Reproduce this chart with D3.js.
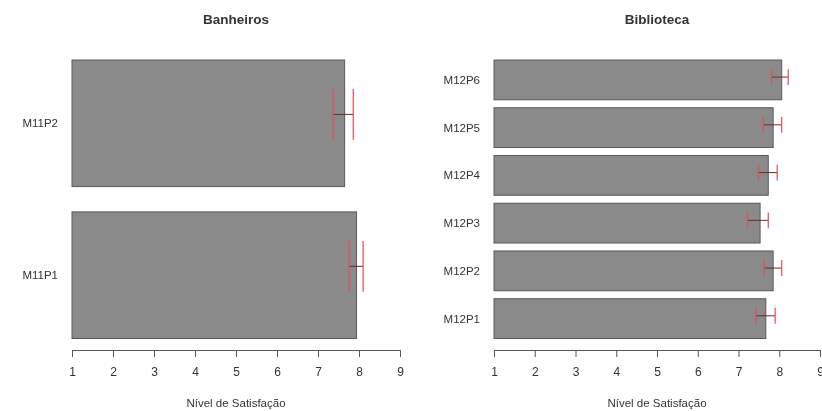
<!DOCTYPE html>
<html>
<head>
<meta charset="utf-8">
<script src="https://cdn.jsdelivr.net/npm/d3@7"></script>
<style>
  html, body { margin: 0; padding: 0; background: #fff; }
  svg { display: block; filter: blur(0.45px); }
  text { font-family: "Liberation Sans", Arial, sans-serif; fill: #333; }
</style>
</head>
<body>
<svg id="chart" width="822" height="411"></svg>
<script>
// ---- data ----
const banheirosCategories = ["M11P1", "M11P2"];
const banheirosMeans = [7.94, 7.65];
const banheirosLower = [7.76, 7.37];
const banheirosUpper = [8.10, 7.86];

const bibliotecaCategories = ["M12P1", "M12P2", "M12P3", "M12P4", "M12P5", "M12P6"];
const bibliotecaMeans = [7.67, 7.85, 7.53, 7.73, 7.85, 8.06];
const bibliotecaLower = [7.43, 7.63, 7.22, 7.49, 7.61, 7.81];
const bibliotecaUpper = [7.90, 8.06, 7.73, 7.95, 8.06, 8.22];

const xTicks = [1, 2, 3, 4, 5, 6, 7, 8, 9];
const titles = ["Banheiros", "Biblioteca"];
const xLabel = "Nível de Satisfação";

// ---- drawing ----
const svg = d3.select("#chart");

function panel(opts) {
  const { title, categories, means, lower, upper, x0, x1 } = opts;
  const yTop = 60, yBot = 338.5, axisY = 350;
  const g = svg.append("g");

  const x = d3.scaleLinear().domain([1, 9]).range([x0, x1]);
  // categories drawn bottom-to-top (first category at the bottom)
  const y = d3.scaleBand()
    .domain(categories.slice().reverse())
    .range([yTop, yBot])
    .paddingInner(1 / 6)
    .paddingOuter(0);
  const bw = y.bandwidth();

  const data = categories.map((c, i) => ({ c, m: means[i], lo: lower[i], hi: upper[i] }));

  g.selectAll("rect.bar").data(data).join("rect")
    .attr("class", "bar")
    .attr("x", x(1))
    .attr("y", d => y(d.c))
    .attr("width", d => x(d.m) - x(1))
    .attr("height", bw)
    .attr("fill", "#8a8a8a")
    .attr("stroke", "#5a5a5a")
    .attr("stroke-width", 1);

  // error bars
  const eb = g.selectAll("g.eb").data(data).join("g").attr("class", "eb")
    .attr("transform", d => `translate(0,${y(d.c) + bw / 2 - 0.07 * bw})`);
  const capH = 0.2 * bw;
  eb.append("line")
    .attr("x1", d => x(d.lo)).attr("x2", d => x(d.hi))
    .attr("y1", 0).attr("y2", 0)
    .attr("stroke", "#6a2a2a").attr("stroke-width", 1);
  eb.append("line")
    .attr("x1", d => x(d.lo)).attr("x2", d => x(d.lo))
    .attr("y1", -capH).attr("y2", capH)
    .attr("stroke", "#e8485a").attr("stroke-width", 1.2);
  eb.append("line")
    .attr("x1", d => x(d.hi)).attr("x2", d => x(d.hi))
    .attr("y1", -capH).attr("y2", capH)
    .attr("stroke", "#e8485a").attr("stroke-width", 1.2);

  // category labels
  g.selectAll("text.cat").data(data).join("text")
    .attr("class", "cat")
    .attr("x", x(1) - 14)
    .attr("y", d => y(d.c) + bw / 2)
    .attr("text-anchor", "end")
    .attr("dominant-baseline", "central")
    .attr("font-size", 11.5)
    .text(d => d.c);

  // x axis
  const axis = d3.axisBottom(x).tickValues(xTicks).tickSize(7).tickPadding(10).tickSizeOuter(0);
  const ax = g.append("g").attr("transform", `translate(0,${axisY})`).call(axis);
  ax.select(".domain").attr("stroke", "#555");
  ax.selectAll(".tick line").attr("stroke", "#555");
  ax.selectAll(".tick text").attr("font-size", 12).attr("fill", "#333")
    .attr("font-family", "Liberation Sans, Arial, sans-serif");

  g.append("text")
    .attr("x", (x0 + x1) / 2)
    .attr("y", 407)
    .attr("text-anchor", "middle")
    .attr("font-size", 11.5)
    .text(xLabel);

  g.append("text")
    .attr("x", (x0 + x1) / 2)
    .attr("y", 24)
    .attr("text-anchor", "middle")
    .attr("font-size", 13.5)
    .attr("font-weight", "bold")
    .attr("fill", "#222")
    .text(title);
}

panel({
  title: titles[0], categories: banheirosCategories, means: banheirosMeans,
  lower: banheirosLower, upper: banheirosUpper, x0: 72, x1: 400
});
panel({
  title: titles[1], categories: bibliotecaCategories, means: bibliotecaMeans,
  lower: bibliotecaLower, upper: bibliotecaUpper, x0: 494, x1: 820
});
</script>
</body>
</html>
